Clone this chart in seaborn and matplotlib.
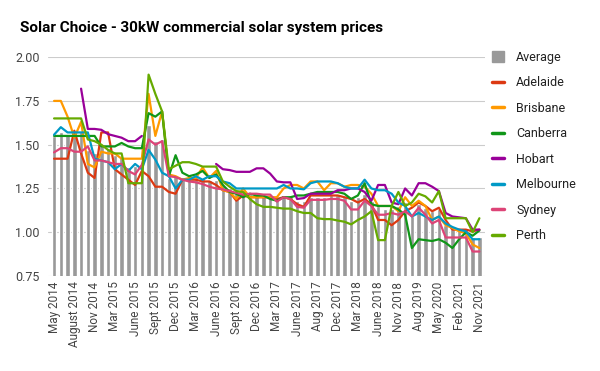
import numpy as np
import pandas as pd
import matplotlib
matplotlib.use("Agg")
import matplotlib.pyplot as plt
from matplotlib.patches import Patch
from matplotlib.lines import Line2D
import seaborn as sns

months = [
    "May 2014", "June 2014", "July 2014", "August 2014", "Sept 2014", "Oct 2014",
    "Nov 2014", "Dec 2014", "Feb 2015", "Mar 2015", "Apr 2015", "May 2015",
    "June 2015", "July 2015", "Aug 2015", "Sept 2015", "Oct 2015", "Nov 2015",
    "Dec 2015", "Jan 2016", "Feb 2016", "Mar 2016", "Apr 2016", "May 2016",
    "June 2016", "July 2016", "Aug 2016", "Sept 2016", "Oct 2016", "Nov 2016",
    "Dec 2016", "Jan 2017", "Feb 2017", "Mar 2017", "Apr 2017", "May 2017",
    "June 2017", "July 2017", "Late July 2017", "Aug 2017", "Sept 2017", "Oct 2017",
    "Dec 2017", "Jan 2018", "Feb 2018", "Mar 2018", "Apr 2018", "May 2018",
    "June 2018", "Aug 2018", "Sept 2018", "Nov 2018", "Feb 2019", "May 2019",
    "Aug 2019", "Nov 2019", "Feb 2020", "May 2020", "Aug 2020", "Nov 2020",
    "Feb 2021", "May 2021", "Aug 2021", "Nov 2021",
]

average = [1.55, 1.57, 1.56, 1.57, 1.58, 1.47, 1.45, 1.49, 1.48, 1.44,
           1.43, 1.37, 1.38, 1.40, 1.61, 1.52, 1.53, 1.31, 1.32, 1.31,
           1.31, 1.32, 1.31, 1.30, 1.30, 1.27, 1.25, 1.23, 1.23, 1.22,
           1.22, 1.21, 1.21, 1.19, 1.21, 1.21, 1.18, 1.18, 1.20, 1.20,
           1.20, 1.21, 1.21, 1.20, 1.18, 1.20, 1.22, 1.18, 1.15, 1.13,
           1.13, 1.15, 1.17, 1.09, 1.16, 1.14, 1.12, 1.13, 1.04, 1.02,
           1.01, 1.02, 0.97, 0.97]

adelaide = [1.42, 1.42, 1.42, 1.58, 1.45, 1.34, 1.31, 1.57, 1.57, 1.36,
            1.33, 1.30, 1.27, 1.35, 1.32, 1.26, 1.26, 1.23, 1.22, 1.30,
            1.30, 1.30, 1.29, 1.29, 1.27, 1.24, 1.23, 1.18, 1.21, 1.20,
            1.20, 1.20, 1.20, 1.19, 1.20, 1.19, 1.16, 1.145, 1.21, 1.21,
            1.21, 1.21, 1.21, 1.20, 1.19, 1.17, 1.19, 1.16, 1.07, 1.07,
            1.04, 1.07, 1.12, 1.14, 1.17, 1.15, 1.12, 1.14, 1.07, 1.015,
            1.015, 1.015, 1.005, 1.015]

brisbane = [1.75, 1.75, 1.66, 1.54, 1.63, 1.39, 1.37, 1.46, 1.45, 1.45,
            1.42, 1.42, 1.42, 1.42, 1.79, 1.55, 1.69, 1.33, 1.32, 1.30,
            1.31, 1.31, 1.37, 1.31, 1.35, 1.24, 1.23, 1.19, 1.25, 1.20,
            1.20, 1.20, 1.20, 1.20, 1.25, 1.27, 1.27, 1.25, 1.29, 1.29,
            1.24, 1.28, 1.28, 1.26, 1.27, 1.27, 1.26, 1.22, 1.15, 1.15,
            1.15, 1.12, 1.20, 1.15, 1.18, 1.15, 1.07, 1.09, 1.04, 1.025,
            1.005, 0.995, 0.93, 0.91]

canberra = [1.55, 1.55, 1.55, 1.55, 1.55, 1.55, 1.55, 1.49, 1.49, 1.49,
            1.51, 1.49, 1.48, 1.48, 1.68, 1.66, 1.69, 1.32, 1.44, 1.34,
            1.32, 1.33, 1.35, 1.31, 1.33, 1.27, 1.23, 1.22, 1.20, 1.22,
            1.21, 1.21, 1.19, 1.18, 1.20, 1.20, 1.21, 1.21, 1.22, 1.23,
            1.23, 1.23, 1.23, 1.22, 1.19, 1.21, 1.28, 1.16, 1.15, 1.15,
            1.15, 1.13, 1.10, 0.91, 0.96, 0.955, 0.95, 0.96, 0.94, 0.91,
            0.96, 1.00, 0.98, 1.01]

nan = np.nan
hobart = [nan, nan, nan, nan, 1.82, 1.59, 1.59, 1.585, 1.56, 1.55,
          1.54, 1.52, 1.52, 1.55, nan, nan, nan, nan, nan, nan,
          nan, nan, nan, nan, 1.39, 1.36, 1.355, 1.345, 1.345, 1.345,
          1.365, 1.365, 1.335, 1.29, 1.285, 1.285, 1.19, 1.195, 1.22, 1.22,
          1.22, 1.22, 1.24, 1.24, 1.25, 1.25, 1.23, 1.18, 1.27, 1.27,
          1.17, 1.16, 1.25, 1.21, 1.28, 1.28, 1.26, 1.235, 1.11, 1.09,
          1.085, 1.08, 1.015, 1.015]

melbourne = [1.557, 1.60, 1.57, 1.57, 1.57, 1.57, 1.42, 1.41, 1.40, 1.36,
             1.39, 1.35, 1.39, 1.36, 1.47, 1.415, 1.34, 1.32, 1.25, 1.30,
             1.30, 1.32, 1.30, 1.32, 1.32, 1.29, 1.28, 1.25, 1.25, 1.25,
             1.25, 1.25, 1.25, 1.25, 1.27, 1.25, 1.25, 1.245, 1.28, 1.29,
             1.29, 1.29, 1.28, 1.26, 1.25, 1.25, 1.30, 1.25, 1.24, 1.24,
             1.22, 1.17, 1.15, 1.09, 1.11, 1.09, 1.07, 1.09, 1.05, 1.03,
             1.015, 1.005, 0.96, 0.96]

sydney = [1.456, 1.48, 1.48, 1.46, 1.46, 1.49, 1.41, 1.41, 1.40, 1.39,
          1.39, 1.35, 1.33, 1.385, 1.53, 1.50, 1.52, 1.32, 1.315, 1.30,
          1.29, 1.285, 1.275, 1.26, 1.25, 1.245, 1.235, 1.225, 1.215, 1.22,
          1.22, 1.215, 1.215, 1.175, 1.20, 1.19, 1.145, 1.14, 1.185, 1.185,
          1.185, 1.19, 1.19, 1.18, 1.13, 1.13, 1.18, 1.15, 1.10, 1.10,
          1.11, 1.10, 1.12, 1.09, 1.14, 1.10, 1.05, 1.07, 0.97, 0.97,
          0.97, 0.97, 0.89, 0.89]

perth = [1.65, 1.65, 1.65, 1.65, 1.65, 1.53, 1.52, 1.50, 1.47, 1.45,
         1.45, 1.28, 1.28, 1.28, 1.90, 1.79, 1.69, 1.36, 1.38, 1.40,
         1.40, 1.39, 1.375, 1.375, 1.375, 1.29, 1.26, 1.235, 1.23, 1.19,
         1.16, 1.145, 1.145, 1.14, 1.135, 1.135, 1.12, 1.11, 1.11, 1.08,
         1.075, 1.075, 1.067, 1.06, 1.045, 1.07, 1.09, 1.12, 0.955, 0.955,
         1.15, 1.23, 1.15, 1.17, 1.22, 1.205, 1.17, 1.235, 1.08, 1.08,
         1.08, 1.08, 1.00, 1.08]

cities = ["Adelaide", "Brisbane", "Canberra", "Hobart", "Melbourne", "Sydney", "Perth"]
city_values = [adelaide, brisbane, canberra, hobart, melbourne, sydney, perth]
colors = ["#dc3912", "#ff9900", "#109618", "#990099", "#0099c6", "#dd4477", "#66aa00"]
bar_color = "#999999"
tick_labels = months[::3]

# long-form table for the city lines; a gap in the data starts a new segment
rows = []
for city, vals in zip(cities, city_values):
    seg = 0
    prev_nan = True
    for i, v in enumerate(vals):
        if np.isnan(v):
            prev_nan = True
            continue
        if prev_nan:
            seg += 1
            prev_nan = False
        rows.append({"idx": i, "city": city, "price": v, "seg": f"{city}-{seg}"})
lines = pd.DataFrame(rows)
bars = pd.DataFrame({"month": months, "Average": average})

sns.set_theme(style="white")
plt.rcParams["font.family"] = ["Roboto", "DejaVu Sans"]

fig = plt.figure(figsize=(6, 3.71), dpi=100)
ax = fig.add_axes([0.08, 0.256, 0.728, 0.59])

sns.barplot(data=bars, x="month", y="Average", order=months, color=bar_color,
            width=0.66, saturation=1, ax=ax)
sns.lineplot(data=lines, x="idx", y="price", hue="city", units="seg", estimator=None,
             hue_order=cities, palette=colors, linewidth=1.6, legend=False, ax=ax)

ax.set_ylim(0.75, 2.0)
ax.set_xlim(-0.9, 63.8)
ax.set_yticks([0.75, 1.0, 1.25, 1.5, 1.75, 2.0])
ax.set_yticklabels(["0.75", "1.00", "1.25", "1.50", "1.75", "2.00"])
ax.set_xticks(range(0, len(months), 3))
ax.set_xticklabels(tick_labels, rotation=90)
ax.tick_params(axis="both", length=0, colors="#444444")
ax.tick_params(axis="y", labelsize=9, pad=6)
ax.tick_params(axis="x", labelsize=8.5, pad=4)
ax.yaxis.grid(True, color="#cccccc", linewidth=0.8)
ax.set_axisbelow(True)
for s in ax.spines.values():
    s.set_visible(False)
ax.set_xlabel("")
ax.set_ylabel("")

fig.text(0.033, 0.915, "Solar Choice - 30kW commercial solar system prices",
         fontsize=11, fontweight="bold", color="#000000")

handles = [Patch(facecolor=bar_color, edgecolor=bar_color, label="Average")]
for city, c in zip(cities, colors):
    handles.append(Line2D([0], [0], color=c, linewidth=2.5, label=city))
leg = fig.legend(handles=handles, loc="upper left", bbox_to_anchor=(0.802, 0.893),
                 frameon=False, fontsize=9, labelspacing=1.0, handlelength=0.9,
                 handleheight=0.9, handletextpad=1.0)
for t in leg.get_texts():
    t.set_color("#222222")

fig.savefig("out.png", dpi=100)
